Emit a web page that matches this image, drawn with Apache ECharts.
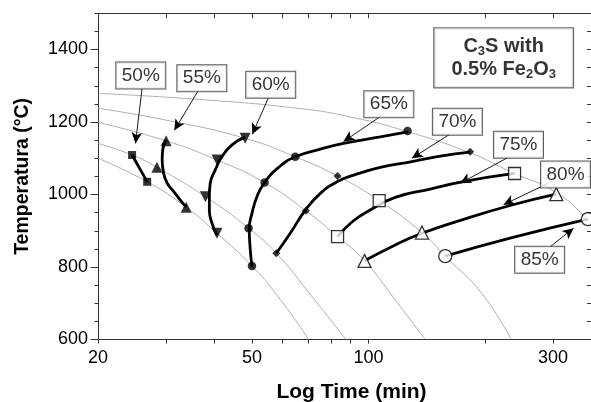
<!DOCTYPE html>
<html><head><meta charset="utf-8">
<script src="https://cdn.jsdelivr.net/npm/echarts@6/dist/echarts.min.js"></script>
<style>html,body{margin:0;padding:0;background:#fff}#c{width:591px;height:402px}</style>
</head><body><div id="c"></div>
<script>
// ---- axes ----
const xTickValues = [20,30,40,50,60,70,80,90,100,200,300];
const xLabelValues = [20,50,100,300];
const yLabelValues = [600,800,1000,1200,1400];
const yMinorValues = [600,650,700,750,800,850,900,950,1000,1050,1100,1150,1200,1250,1300,1350,1400,1450,1500];

// ---- thin grey run curves (time min, temperature C) ----
const runA = [[20,1279],[36.8,1262],[66.6,1237],[89.7,1214],[125.7,1174],[183,1115],[235,1061],[304,1007],[369,932],[376,921]];
const runB = [[20,1238],[30.7,1203],[48.0,1155],[64.7,1104],[83.2,1051],[106.6,983],[137.5,895],[157.9,830],[196.4,727],[233.8,600]];
const runC = [[20,1199],[30.0,1148],[40.6,1095],[53.9,1033],[68.9,955],[83.2,884],[97.7,817],[117.3,709],[140.2,600]];
const runD = [[20,1141],[24.5,1109],[28.4,1075],[37.9,994],[49.0,907],[57.8,838],[71.5,718],[87.5,600]];
const runE = [[20,1100],[26.8,1035],[33.8,965],[40.6,893],[50.0,803],[59.8,704],[70.0,600]];

// ---- thick fitted conversion lines ----
const fit50 = [[24.5,1109],[26.8,1035]];
const fit55 = [[30.0,1150],[29.4,1123],[29.3,1095],[29.55,1059],[30.2,1031],[31.4,1008],[32.6,985],[33.8,965]];
const fit60 = [[48.0,1159],[44.4,1137],[41.8,1104],[40.2,1068],[39.0,1031],[38.8,994],[38.8,957],[39.4,921],[40.6,888]];
const fit65 = [[50.0,801],[49.5,847],[49.2,907],[50.0,948],[51.5,994],[53.9,1033],[58.5,1074],[64.7,1104],[75.1,1125],[86.2,1141],[107.3,1159],[126.4,1173]];
const fit70 = [[57.8,838],[62.8,893],[68.7,957],[75.1,1003],[82.9,1035],[92.5,1055],[107.3,1075],[129.5,1091],[153.3,1106],[183.2,1117]];
const fit75 = [[83.2,884],[91.3,927],[101,957],[117.3,992],[144.4,1015],[174.4,1035],[238.6,1058]];
const fit80 = [[97.7,817],[117.3,861],[137.5,893],[174.4,930],[234.9,971],[305.8,1001]];
const fit85 = [[157.9,830],[234.9,881],[369,932]];

// ---- measured points ----
const m50 = [[24.5,1109],[26.8,1035]];
const m55 = [[30.0,1148],[28.4,1075],[33.8,965]];
const m60 = [[48.0,1155],[40.6,1095],[37.9,994],[40.6,893]];
const m65 = [[126.2,1175],[64.7,1104],[53.9,1033],[49.0,907],[50.0,803]];
const m70 = [[183.2,1118],[83.2,1051],[68.9,955],[57.8,838]];
const m75 = [[238.6,1058],[106.6,983],[83.2,884]];
const m80 = [[305.8,1001],[137.5,895],[97.7,817]];
const m85 = [[369,932],[157.9,830]];

// ---- annotations ----
const labelNames = ['50%','55%','60%','65%','70%','75%','80%','85%'];
const labelPos = [[25.8,1328],[37.1,1321],[55.9,1303],[112.9,1249],[169.8,1201],[244.2,1137],[323.1,1055],[277,820]];
const arrowFrom = [[26.0,1293],[36.3,1286],[55.2,1268],[107.3,1215],[162.7,1167],[230.2,1103],[292,1031],[295,856]];
const arrowTo = [[25.0,1141],[31.5,1177],[50.1,1166],[86.2,1146],[129.5,1100],[172.7,1031],[223.4,972],[338.8,907]];
const titlePos = [223.6,1377];

const FF = 'Liberation Sans, Arial, Helvetica, sans-serif';
const AX = '#333';

const series = [];
[runA, runB, runC, runD, runE].forEach(r => series.push({
  type:'line', data:r, smooth:true, showSymbol:false, symbol:'none', z:1,
  lineStyle:{color:'#9a9a9a', width:0.8}, silent:true
}));
[fit50, fit55, fit60, fit65, fit70, fit75, fit80, fit85].forEach((f,i) => series.push({
  type:'line', data:f, smooth:i===0?false:true, showSymbol:false, symbol:'none', z:2,
  lineStyle:{color:'#000', width:2.8}
}));
const filled = {color:'#000'};
const open = {color:'#fff', borderColor:'#000', borderWidth:1.3};
const markers = [
  [m50,'rect',8,0,filled],
  [m55,'triangle',11,0,filled],
  [m60,'triangle',11,180,filled],
  [m65,'circle',8.5,0,filled],
  [m70,'diamond',8,0,filled],
  [m75,'rect',12,0,open],
  [m80,'triangle',13,0,open],
  [m85,'circle',13,0,open]
];
markers.forEach(m => series.push({
  type:'scatter', data:m[0], symbol:m[1], symbolSize:m[2], symbolRotate:m[3], z:3, itemStyle:m[4]
}));
// label boxes + arrows
series.push({
  type:'scatter', z:5, symbol:'rect', symbolSize:0.1, itemStyle:{color:'rgba(0,0,0,0)'},
  data: labelPos.map((p,i)=>({value:p, name:labelNames[i]})),
  label:{show:true, position:'inside', formatter:'{b}', fontFamily:FF, fontSize:19, color:'#000',
    backgroundColor:'#fff', borderColor:'#333', borderWidth:1, padding:[4,5.5,3,5.5], lineHeight:19},
  markLine:{silent:true, symbol:['none','arrow'], symbolSize:[8,11], animation:false,
    label:{show:false}, lineStyle:{color:'#000', width:0.9, type:'solid'},
    data: arrowFrom.map((p,i)=>[{coord:p},{coord:arrowTo[i]}])}
});
series.push({
  type:'scatter', z:5, symbol:'rect', symbolSize:0.1, itemStyle:{color:'rgba(0,0,0,0)'},
  data:[{value:titlePos, name:'t'}],
  label:{show:true, position:'inside',
    formatter:'{b|C}{s|3}{b|S with}\n{b|0.5% Fe}{s|2}{b|O}{s|3}',
    backgroundColor:'#fff', borderColor:'#444', borderWidth:1.2, padding:[7,17,6,17], align:'center',
    rich:{ b:{fontFamily:FF, fontWeight:'bold', fontSize:20, color:'#000', lineHeight:23},
           s:{fontFamily:FF, fontWeight:'bold', fontSize:13, color:'#000', lineHeight:12, verticalAlign:'bottom'} }}
});

const option = {
  animation:false,
  grid:{left:98, top:13.25, width:493, height:326.25, outerBoundsMode:'none', containLabel:false},
  xAxis:[
    {type:'log', logBase:10, min:20, max:376, position:'bottom',
     name:'Log Time (min)', nameLocation:'middle', nameGap:42.5,
     nameTextStyle:{fontFamily:FF, fontWeight:'bold', fontSize:21, color:'#000', padding:[0,0,0,14]},
     axisLine:{show:true, onZero:false, lineStyle:{color:AX, width:1}},
     axisTick:{show:true, inside:false, length:4, customValues:xTickValues, lineStyle:{color:AX}},
     axisLabel:{show:true, customValues:xLabelValues, formatter:v=>String(Math.round(v)), margin:10,
       fontFamily:FF, fontSize:18, color:'#000'},
     splitLine:{show:false}, minorTick:{show:false}},
    {type:'log', logBase:10, min:20, max:376, position:'top',
     axisLine:{show:true, onZero:false, lineStyle:{color:AX, width:1}},
     axisTick:{show:true, inside:true, length:5, customValues:xTickValues, lineStyle:{color:AX}},
     axisLabel:{show:false}, splitLine:{show:false}}
  ],
  yAxis:[
    {type:'value', min:600, max:1500, interval:100, position:'left',
     name:'Temperatura (°C)', nameLocation:'middle', nameGap:65, nameRotate:90,
     nameTextStyle:{fontFamily:FF, fontWeight:'bold', fontSize:19.5, color:'#000'},
     axisLine:{show:true, onZero:false, lineStyle:{color:AX, width:1}},
     axisTick:{show:true, inside:false, length:7.5, customValues:yLabelValues, lineStyle:{color:AX}},
     axisLabel:{show:true, customValues:yLabelValues, formatter:v=>String(Math.round(v)), margin:10,
       fontFamily:FF, fontSize:18, color:'#000'},
     splitLine:{show:false}},
    {type:'value', min:600, max:1500, interval:100, position:'left',
     axisLine:{show:false, onZero:false},
     axisTick:{show:true, inside:false, length:3.5, customValues:yMinorValues, lineStyle:{color:AX}},
     axisLabel:{show:false}, splitLine:{show:false}},
    {type:'value', min:600, max:1500, interval:100, position:'right',
     axisLine:{show:false, onZero:false},
     axisTick:{show:true, inside:true, length:4, customValues:yMinorValues, lineStyle:{color:AX}},
     axisLabel:{show:false}, splitLine:{show:false}}
  ],
  series: series
};
const chart = echarts.init(document.getElementById('c'), null, {renderer:'canvas'});
chart.setOption(option);
</script></body></html>
